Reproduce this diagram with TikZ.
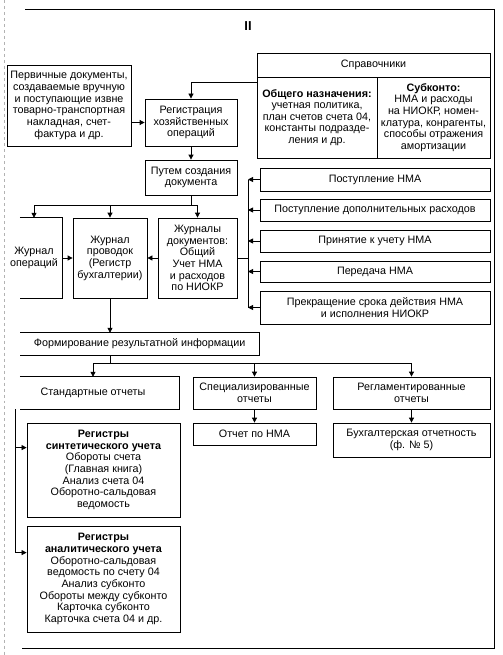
\documentclass[tikz,border=0pt]{standalone}
\usepackage{fontspec}
\setmainfont{Liberation Sans}
\usetikzlibrary{arrows.meta,calc}
\begin{document}
\begin{tikzpicture}[x=1bp,y=-1bp,
  font=\fontsize{10.8}{11.7}\selectfont,
  ln/.style={line width=0.8bp},
  box/.style={draw,ln,inner sep=1bp,align=center},
  openbox/.style={inner sep=1bp,align=center},
  arr/.style={ln,-{Triangle[length=5bp,width=5bp]}}]
\useasboundingbox (0,0) rectangle (503,655);
% frame
\draw[ln] (25,9) -- (494,9) -- (494,648) -- (22,648);
\draw[gray!60,line width=0.5bp,dashed] (4,0) -- (4,655);
\node[font=\bfseries\fontsize{13}{14}\selectfont] (title) at (248,26) {II};
% top part
\node[box,minimum width=124bp,minimum height=81bp] (perv) at (69,105.5) {Первичные документы,\\создаваемые вручную\\и поступающие извне\\товарно-транспортная\\накладная, счет-\\фактура и др.};
\node[box,minimum width=92bp,minimum height=47bp] (reg) at (191,122.5) {Регистрация\\хозяйственных\\операций};
\node[box,minimum width=92bp,minimum height=35bp] (put) at (191,177.5) {Путем создания\\документа};
\node[box,minimum width=233bp,minimum height=24bp] (sprav) at (373.5,65) {Справочники};
\node[box,minimum width=120bp,minimum height=81bp] (obsh) at (317,117.5) {\textbf{Общего назначения:}\\учетная политика,\\план счетов счета 04,\\константы подразде-\\ления и др.};
\node[box,minimum width=113bp,minimum height=81bp] (subk) at (433.5,117.5) {\textbf{Субконто:}\\НМА и расходы\\на НИОКР, номен-\\клатура, конрагенты,\\способы отражения\\амортизации};
% right column
\node[box,minimum width=230bp,minimum height=23bp] (r1) at (375,179.5) {Поступление НМА};
\node[box,minimum width=230bp,minimum height=22bp] (r2) at (375,210) {Поступление дополнительных расходов};
\node[box,minimum width=230bp,minimum height=22bp] (r3) at (375,241) {Принятие к учету НМА};
\node[box,minimum width=230bp,minimum height=21bp] (r4) at (375,271.5) {Передача НМА};
\node[box,minimum width=230bp,minimum height=33bp] (r5) at (375,307.5) {Прекращение срока действия НМА\\и исполнения НИОКР};
% journals
\node[openbox,minimum width=56bp,minimum height=80bp] (jo) at (34,258) {Журнал\\операций};
\draw[ln] ([xshift=14bp]jo.north west) -- (jo.north east) -- (jo.south east) -- ([xshift=14bp]jo.south west);
\node[box,minimum width=74bp,minimum height=80bp] (jp) at (110,258) {Журнал\\проводок\\(Регистр\\бухгалтерии)};
\node[box,minimum width=79bp,minimum height=80bp] (jd) at (197.5,258) {Журналы\\документов:\\Общий\\Учет НМА\\и расходов\\по НИОКР};
% result
\node[openbox,minimum width=239bp,minimum height=22bp,inner sep=2bp,anchor=west] (form) at (20,344) {Формирование результатной информации};
\draw[ln] (form.north west) -- (form.north east) -- (form.south east) -- (form.south west);
\node[openbox,minimum width=172bp,minimum height=32bp] (std) at (93,393) {Стандартные отчеты};
\draw[ln] ([xshift=13bp]std.north west) -- (std.north east) -- (std.south east) -- ([xshift=13bp]std.south west);
\node[box,minimum width=123bp,minimum height=32bp] (spec) at (254.5,393) {Специализированные\\отчеты};
\node[box,minimum width=157bp,minimum height=32bp] (regl) at (411.5,393) {Регламентированные\\отчеты};
\node[box,minimum width=123bp,minimum height=22bp] (otch) at (254.5,434) {Отчет по НМА};
\node[box,minimum width=157bp,minimum height=34bp] (buh) at (411.5,440) {Бухгалтерская отчетность\\(ф. № 5)};
\node[box,minimum width=153bp,minimum height=94bp] (sint) at (103.5,470) {\textbf{Регистры}\\\textbf{синтетического учета}\\Обороты счета\\(Главная книга)\\Анализ счета 04\\Оборотно-сальдовая\\ведомость};
\node[box,minimum width=153bp,minimum height=106bp] (anal) at (103.5,579) {\textbf{Регистры}\\\textbf{аналитического учета}\\Оборотно-сальдовая\\ведомость по счету 04\\Анализ субконто\\Обороты между субконто\\Карточка субконто\\Карточка счета 04 и др.};
% coordinates
\coordinate (s1) at (191,205);
\coordinate (bus) at (248,0);
\coordinate (s2) at (110,363);
\coordinate (lb) at (15,0);
\coordinate (la1) at ([yshift=-25bp]sint.north west);
\coordinate (la2) at ([yshift=-27bp]anal.north west);
\coordinate (sp) at ([yshift=-6bp]obsh.north west);
% connectors
\draw[arr] (reg.west -| perv.east) -- (reg.west);
\draw[arr] (sp) -| (reg.north);
\draw[arr] (reg.south) -- (put.north);
\draw[ln] (put.south) -- (s1);
\draw[ln] (jo.north |- s1) -- (jd.north |- s1);
\draw[arr] (jo.north |- s1) -- (jo.north);
\draw[arr] (jp.north |- s1) -- (jp.north);
\draw[arr] (jd.north |- s1) -- (jd.north);
\draw[arr] (jo.east) -- (jp.west);
\draw[arr] (jd.west) -- (jp.east);
\draw[ln] (bus |- r1) -- (bus |- r5);
\draw[ln] (jd.east) -- (jd.east -| bus);
\foreach \r in {r1,r2,r3,r4,r5} \draw[arr] (\r.west) -- (\r.west -| bus);
\draw[arr] (jp.south) -- (jp.south |- form.north);
\draw[ln] (jp.south |- form.south) -- (s2);
\draw[ln] (std.north |- s2) -- (regl.north |- s2);
\draw[arr] (std.north |- s2) -- (std.north);
\draw[arr] (spec.north |- s2) -- (spec.north);
\draw[arr] (regl.north |- s2) -- (regl.north);
\draw[arr] (spec.south) -- (otch.north);
\draw[arr] (regl.south) -- (buh.north);
\draw[ln] (std.south -| lb) -- (lb |- la2);
\draw[arr] (lb |- la1) -- (la1);
\draw[arr] (lb |- la2) -- (la2);
\end{tikzpicture}
\end{document}
